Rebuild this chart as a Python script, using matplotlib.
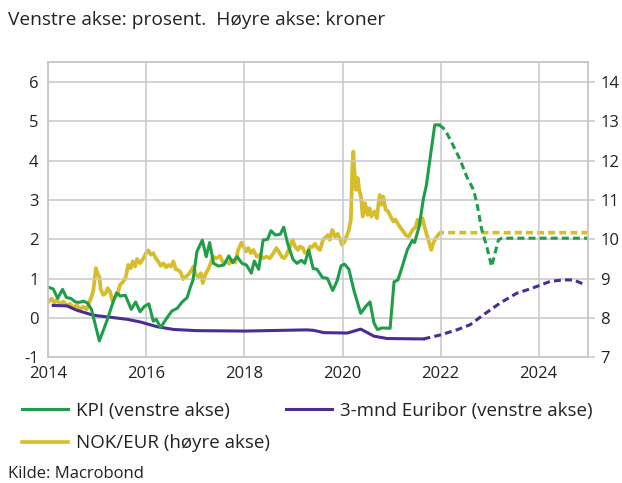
import matplotlib
matplotlib.use("Agg")
import matplotlib.pyplot as plt
from matplotlib.lines import Line2D

plt.rcParams['font.family'] = ['Open Sans', 'DejaVu Sans']
plt.rcParams['axes.unicode_minus'] = False
plt.rcParams['lines.scale_dashes'] = False

# KPI (venstre akse), lest av figuren
kpi_t = [2014.01, 2014.10, 2014.19, 2014.29, 2014.37, 2014.46, 2014.55, 2014.63, 2014.72, 2014.80,
         2014.88, 2015.04, 2015.20, 2015.30, 2015.39, 2015.47, 2015.57, 2015.69, 2015.78, 2015.87,
         2015.96, 2016.05, 2016.14, 2016.20, 2016.29, 2016.41, 2016.52, 2016.63, 2016.73, 2016.83,
         2016.90, 2016.95, 2017.03, 2017.14, 2017.22, 2017.29, 2017.37, 2017.47, 2017.58, 2017.68,
         2017.76, 2017.85, 2017.95, 2018.04, 2018.14, 2018.20, 2018.29, 2018.38, 2018.47, 2018.54,
         2018.63, 2018.73, 2018.80, 2018.88, 2018.99, 2019.07, 2019.16, 2019.23, 2019.31, 2019.40,
         2019.48, 2019.59, 2019.69, 2019.80, 2019.89, 2019.97, 2020.04, 2020.13, 2020.23, 2020.37,
         2020.47, 2020.56, 2020.64, 2020.71, 2020.81, 2020.97, 2021.05, 2021.13, 2021.22, 2021.32,
         2021.42, 2021.47, 2021.56, 2021.65, 2021.71, 2021.80, 2021.88, 2021.97]
kpi_v = [0.78, 0.74, 0.50, 0.73, 0.52, 0.50, 0.41, 0.40, 0.43, 0.38,
         0.22, -0.58, -0.05, 0.33, 0.64, 0.56, 0.58, 0.22, 0.41, 0.16,
         0.30, 0.36, -0.08, -0.03, -0.24, -0.01, 0.18, 0.25, 0.41, 0.52,
         0.80, 0.96, 1.69, 1.98, 1.56, 1.92, 1.39, 1.32, 1.35, 1.58,
         1.41, 1.56, 1.39, 1.35, 1.14, 1.45, 1.24, 1.98, 2.00, 2.22,
         2.11, 2.13, 2.31, 1.90, 1.49, 1.39, 1.47, 1.39, 1.73, 1.26,
         1.24, 1.03, 1.01, 0.70, 0.95, 1.33, 1.37, 1.24, 0.71, 0.12,
         0.29, 0.41, -0.12, -0.29, -0.25, -0.26, 0.92, 0.97, 1.32, 1.73,
         1.97, 1.92, 2.32, 3.04, 3.38, 4.19, 4.91, 4.91]

kpi_prog_t = [2021.97, 2022.09, 2022.23, 2022.40, 2022.53, 2022.67, 2022.74, 2022.84, 2022.94,
              2023.04, 2023.18, 2023.25, 2025.00]
kpi_prog_v = [4.91, 4.79, 4.45, 4.02, 3.60, 3.26, 2.92, 2.24, 1.82,
              1.31, 1.99, 2.03, 2.03]

# 3-mnd Euribor (venstre akse)
eur_t = [2014.10, 2014.38, 2014.58, 2014.92, 2015.20, 2015.60, 2015.88, 2016.22, 2016.56, 2017.03,
         2018.00, 2019.27, 2019.40, 2019.62, 2020.10, 2020.37, 2020.64, 2020.91, 2021.65]
eur_v = [0.32, 0.31, 0.20, 0.07, 0.03, -0.03, -0.10, -0.22, -0.29, -0.32,
         -0.33, -0.30, -0.31, -0.37, -0.38, -0.28, -0.46, -0.52, -0.53]

eur_prog_t = [2021.65, 2021.99, 2022.33, 2022.60, 2022.87, 2023.21, 2023.55, 2023.87, 2024.23,
              2024.50, 2024.71, 2024.90]
eur_prog_v = [-0.53, -0.43, -0.30, -0.17, 0.08, 0.38, 0.63, 0.76, 0.93,
              0.97, 0.97, 0.87]

# NOK/EUR (høyre akse)
nok_t = [2014.01, 2014.07, 2014.12, 2014.17, 2014.24, 2014.31, 2014.38, 2014.44, 2014.51, 2014.58,
         2014.65, 2014.71, 2014.78, 2014.84, 2014.88, 2014.92, 2014.97, 2015.00, 2015.04, 2015.07,
         2015.12, 2015.17, 2015.21, 2015.26, 2015.31, 2015.36, 2015.41, 2015.46, 2015.53, 2015.58,
         2015.63, 2015.68, 2015.72, 2015.77, 2015.81, 2015.87, 2015.94, 2015.99, 2016.04, 2016.09,
         2016.14, 2016.19, 2016.24, 2016.29, 2016.35, 2016.40, 2016.45, 2016.50, 2016.55, 2016.60,
         2016.65, 2016.70, 2016.75, 2016.80, 2016.85, 2016.90, 2016.96, 2017.01, 2017.06, 2017.11,
         2017.15, 2017.20, 2017.26, 2017.31, 2017.36, 2017.43, 2017.50, 2017.57, 2017.64, 2017.69,
         2017.74, 2017.81, 2017.87, 2017.94, 2017.98, 2018.03, 2018.08, 2018.13, 2018.18, 2018.25,
         2018.32, 2018.38, 2018.45, 2018.52, 2018.59, 2018.65, 2018.70, 2018.76, 2018.81, 2018.86,
         2018.93, 2018.98, 2019.03, 2019.09, 2019.13, 2019.19, 2019.23, 2019.29, 2019.34, 2019.38,
         2019.44, 2019.49, 2019.54, 2019.60, 2019.64, 2019.70, 2019.74, 2019.79, 2019.85, 2019.90,
         2019.95, 2019.99, 2020.04, 2020.08, 2020.13, 2020.17, 2020.20, 2020.22, 2020.24, 2020.27,
         2020.31, 2020.34, 2020.38, 2020.41, 2020.46, 2020.51, 2020.55, 2020.59, 2020.65, 2020.70,
         2020.73, 2020.76, 2020.80, 2020.83, 2020.88, 2020.93, 2020.98, 2021.04, 2021.08, 2021.14,
         2021.19, 2021.24, 2021.29, 2021.35, 2021.39, 2021.44, 2021.49, 2021.53, 2021.58, 2021.63,
         2021.68, 2021.73, 2021.77, 2021.81, 2021.85, 2021.90, 2021.95]
nok_v = [8.42, 8.50, 8.39, 8.46, 8.36, 8.42, 8.31, 8.36, 8.27, 8.33,
         8.22, 8.29, 8.22, 8.42, 8.54, 8.72, 9.27, 9.14, 9.05, 8.72,
         8.59, 8.63, 8.76, 8.67, 8.42, 8.54, 8.59, 8.84, 8.93, 9.05,
         9.35, 9.27, 9.44, 9.31, 9.50, 9.39, 9.52, 9.65, 9.72, 9.61,
         9.65, 9.52, 9.44, 9.33, 9.39, 9.29, 9.35, 9.31, 9.44, 9.24,
         9.22, 9.16, 8.99, 9.05, 9.10, 9.18, 9.31, 9.10, 9.05, 9.14,
         8.89, 9.10, 9.24, 9.39, 9.56, 9.52, 9.58, 9.39, 9.44, 9.38,
         9.48, 9.41, 9.73, 9.92, 9.82, 9.69, 9.78, 9.65, 9.73, 9.56,
         9.61, 9.52, 9.56, 9.52, 9.65, 9.78, 9.69, 9.56, 9.52, 9.61,
         9.82, 9.99, 9.82, 9.73, 9.82, 9.78, 9.66, 9.69, 9.82, 9.80,
         9.89, 9.78, 9.73, 9.99, 10.03, 10.11, 9.99, 10.24, 10.07, 10.14,
         10.01, 9.86, 9.94, 10.07, 10.24, 10.50, 11.85, 12.23, 11.77, 11.26,
         11.56, 11.26, 11.05, 10.58, 10.92, 10.62, 10.79, 10.58, 10.71, 10.54,
         10.88, 11.13, 10.88, 11.09, 10.75, 10.71, 10.58, 10.45, 10.50, 10.37,
         10.28, 10.20, 10.11, 10.07, 10.16, 10.26, 10.31, 10.50, 10.37, 10.54,
         10.28, 10.07, 9.90, 9.73, 9.90, 10.03, 10.11]

nok_prog_t = [2021.95, 2021.99, 2025.00]
nok_prog_v = [10.11, 10.17, 10.17]

green = '#1f9e4a'
purple = '#4a2d94'
yellow = '#d8bd2a'
gridc = '#c8c8c8'
txtc = '#222222'

fig = plt.figure(figsize=(6.22, 4.83), dpi=100)
ax = fig.add_axes([0.0777, 0.260, 0.8672, 0.611])
ax2 = ax.twinx()

# gul linje bak de andre
ax.set_zorder(ax2.get_zorder() + 1)
ax.patch.set_visible(False)

ax2.plot(nok_t, nok_v, color=yellow, lw=2.7, solid_joinstyle='round')
ax2.plot(nok_prog_t, nok_prog_v, color=yellow, lw=2.6, dashes=(5, 3))

ax.plot(eur_t, eur_v, color=purple, lw=2.2)
ax.plot(eur_prog_t, eur_prog_v, color=purple, lw=2.2, dashes=(5, 3))
ax.plot(kpi_t, kpi_v, color=green, lw=2.2)
ax.plot(kpi_prog_t, kpi_prog_v, color=green, lw=2.2, dashes=(5, 3))

ax.set_xlim(2014, 2025)
ax.set_ylim(-1, 6.5)
ax2.set_ylim(7, 14.5)
ax.set_xticks(range(2014, 2025, 2))
ax.set_yticks(range(-1, 7))
ax2.set_yticks(range(7, 15))

ax.grid(True, color=gridc, lw=1.1)
for a in (ax, ax2):
    for s in a.spines.values():
        s.set_color(gridc)
        s.set_linewidth(1.1)

ax.tick_params(axis='y', length=0, pad=7, labelsize=12, labelcolor=txtc)
ax.tick_params(axis='x', length=0, pad=6, labelsize=12, labelcolor=txtc)
ax2.tick_params(axis='y', length=5, width=1.1, color=gridc, pad=4, labelsize=12,
                labelcolor=txtc)

fig.text(8 / 622, 1 - 20 / 483, 'Venstre akse: prosent.  Høyre akse: kroner',
         fontsize=13.8, va='center', ha='left', color=txtc)
fig.text(8 / 622, 1 - 474 / 483, 'Kilde: Macrobond', fontsize=12, va='center',
         ha='left', color=txtc)

handles = [Line2D([], [], color=green, lw=2.2),
           Line2D([], [], color=yellow, lw=2.6),
           Line2D([], [], color=purple, lw=2.2)]
labels = ['KPI (venstre akse)', 'NOK/EUR (høyre akse)', '3-mnd Euribor (venstre akse)']
fig.legend(handles, labels, loc='upper left', bbox_to_anchor=(22 / 622, 1 - 402 / 483),
           ncol=2, frameon=False, fontsize=13.5, handlelength=2.45, handletextpad=0.42,
           columnspacing=0.85, labelspacing=0.75, borderpad=0, borderaxespad=0,
           labelcolor=txtc)

fig.savefig('out.png', dpi=100)
